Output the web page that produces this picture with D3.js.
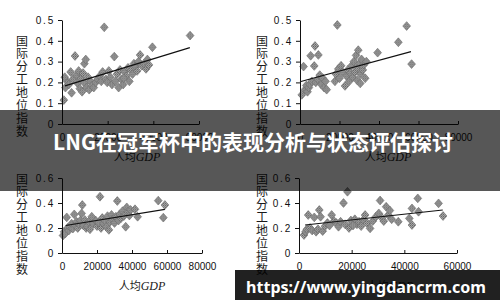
<!DOCTYPE html>
<html>
<head>
<meta charset="utf-8">
<script src="https://cdnjs.cloudflare.com/ajax/libs/d3/7.8.5/d3.min.js"></script>
<style>
	body { margin: 0; background: #fff; }
	svg { display: block; }
</style>
</head>
<body>
<div id="chart"></div>
<script>
// scatter values (GDP per head, division index)
var gdpA = [800, 1500, 2200, 1200, 3000, 3800, 4200, 4800, 5700, 6400, 6900, 7300, 7800, 8300, 8800, 9200,
	9800, 10400, 10000, 10800, 11400, 11900, 12500, 13200, 13900, 14800, 15600, 16500, 17200, 17800, 18500,
	19200, 19800, 20500, 21200, 21900, 22900, 23400, 24100, 24800, 25400, 26000, 26800, 27400, 28100, 28900,
	29500, 30200, 30900, 31500, 32200, 32900, 33500, 34200, 35000, 35900, 36800, 38100, 39600, 37400, 56100, 27000];
var idxA = [0.115, 0.175, 0.205, 0.225, 0.19, 0.25, 0.15, 0.215, 0.327, 0.235, 0.195, 0.255, 0.17, 0.22, 0.155, 0.245,
	0.29, 0.31, 0.195, 0.175, 0.225, 0.165, 0.205, 0.185, 0.175, 0.2, 0.215, 0.23, 0.205, 0.25, 0.465,
	0.215, 0.2, 0.255, 0.225, 0.19, 0.324, 0.205, 0.24, 0.175, 0.26, 0.215, 0.19, 0.25, 0.23, 0.27,
	0.205, 0.26, 0.24, 0.29, 0.275, 0.255, 0.3, 0.332, 0.28, 0.29, 0.265, 0.284, 0.369, 0.31, 0.425, 0.22];

var gdpB = [900, 1800, 2500, 3200, 3800, 4500, 5000, 5400, 6000, 7200, 7600, 8000, 9300, 9000, 10000, 10800,
	11500, 12200, 12900, 13500, 17700, 18200, 18900, 19400, 20000, 20800, 21500, 22800, 23600, 24200, 24900,
	25500, 26100, 26700, 27300, 27900, 28400, 28900, 29500, 30000, 30600, 31200, 31800, 32400, 33000, 33600,
	29000, 30500, 39300, 49800, 54000, 56500];
var idxB = [0.14, 0.276, 0.165, 0.185, 0.155, 0.175, 0.19, 0.328, 0.205, 0.279, 0.375, 0.2, 0.332, 0.215, 0.235, 0.19,
	0.22, 0.175, 0.205, 0.165, 0.205, 0.24, 0.476, 0.265, 0.22, 0.28, 0.25, 0.183, 0.23, 0.26, 0.205,
	0.245, 0.28, 0.225, 0.3, 0.25, 0.33, 0.27, 0.355, 0.29, 0.24, 0.31, 0.26, 0.285, 0.22, 0.3,
	0.21, 0.195, 0.343, 0.393, 0.471, 0.288];

var gdpC = [600, 1200, 1800, 2700, 3200, 3900, 4600, 5500, 6200, 7000, 7600, 8300, 9000, 9700, 10500, 11200,
	11600, 12300, 13000, 13800, 14500, 15300, 16000, 18000, 19200, 20000, 21000, 21700, 22300, 23000, 23800,
	24500, 25300, 26000, 26800, 27500, 28300, 29000, 30000, 30800, 31600, 32300, 33000, 33800, 34600, 35300,
	36400, 37000, 37700, 38500, 39200, 41700, 43200, 55000, 57900, 58800, 17000];
var idxC = [0.14, 0.17, 0.155, 0.285, 0.2, 0.18, 0.21, 0.235, 0.195, 0.309, 0.22, 0.25, 0.2, 0.235, 0.26, 0.317,
	0.384, 0.22, 0.265, 0.2, 0.215, 0.25, 0.19, 0.235, 0.26, 0.215, 0.245, 0.45, 0.2, 0.28, 0.235,
	0.26, 0.21, 0.295, 0.185, 0.25, 0.305, 0.27, 0.24, 0.29, 0.416, 0.26, 0.31, 0.28, 0.335, 0.295,
	0.21, 0.365, 0.33, 0.3, 0.345, 0.35, 0.29, 0.419, 0.283, 0.384, 0.29];

var gdpD = [1900, 2500, 3000, 3500, 4200, 5000, 5800, 6500, 7200, 7700, 8200, 9000, 9900, 10800, 11600, 12400,
	13300, 14200, 15000, 15800, 16900, 17500, 18400, 19000, 19700, 21200, 22000, 22800, 23600, 24400, 25100,
	25800, 27000, 28000, 29200, 30300, 30800, 31500, 32200, 33100, 33900, 34500, 35200, 37700, 41900, 42900,
	42900, 45100, 45400, 53000, 54700, 20500];
var idxD = [0.144, 0.17, 0.19, 0.304, 0.2, 0.18, 0.285, 0.17, 0.19, 0.344, 0.29, 0.175, 0.215, 0.24, 0.22, 0.304,
	0.255, 0.24, 0.21, 0.25, 0.4, 0.23, 0.49, 0.2, 0.26, 0.27, 0.23, 0.25, 0.215, 0.265, 0.304,
	0.24, 0.197, 0.255, 0.29, 0.317, 0.42, 0.28, 0.255, 0.37, 0.304, 0.34, 0.27, 0.25, 0.277, 0.357,
	0.224, 0.437, 0.33, 0.397, 0.296, 0.22];

// fitted lines: two ends each
var trendGdpA = [1300, 56000], trendIdxA = [0.183, 0.367];
var trendGdpB = [0, 56200], trendIdxB = [0.203, 0.348];
var trendGdpC = [2100, 58800], trendIdxC = [0.22, 0.349];
var trendGdpD = [2300, 54600], trendIdxD = [0.224, 0.344];

// tick labels
var xTicks60 = [0, 20000, 40000, 60000];
var xTicks80 = [0, 20000, 40000, 60000, 80000];
var yTicksTop = [0, 0.1, 0.2, 0.3, 0.4, 0.5];
var yTicksBottom = [0, 0.2, 0.4, 0.6];

var yTitle = "国际分工地位指数";
var xTitleCn = "人均", xTitleEn = "GDP";
var bannerText = "LNG在冠军杯中的表现分析与状态评估探讨";
var watermarkText = "https://www.yingdancrm.com";

var svg;

function init() {
	svg = d3.select("#chart")
		.append("svg")
		.attr("width", 500)
		.attr("height", 300);

	// halftone-ish fill for the diamonds
	var pat = svg.append("defs")
		.append("pattern")
		.attr("id", "dots")
		.attr("width", 2)
		.attr("height", 2)
		.attr("patternUnits", "userSpaceOnUse");
	pat.append("rect").attr("width", 2).attr("height", 2).attr("fill", "#a6a6a6");
	pat.append("rect").attr("width", 1).attr("height", 1).attr("fill", "#646464");
	pat.append("rect").attr("x", 1).attr("y", 1).attr("width", 1).attr("height", 1).attr("fill", "#7c7c7c");

	drawPanel({ gdp: gdpA, idx: idxA, tGdp: trendGdpA, tIdx: trendIdxA, xTicks: xTicks60, yTicks: yTicksTop,
		xr: [62, 199], yr: [124, 20], titleX: 22, titleY: 40, xtX: 137, xtY: 161 });
	drawPanel({ gdp: gdpB, idx: idxB, tGdp: trendGdpB, tIdx: trendIdxB, xTicks: xTicks80, yTicks: yTicksTop,
		xr: [300, 458], yr: [124, 20], titleX: 262, titleY: 40, xtX: 388, xtY: 161 });
	drawPanel({ gdp: gdpC, idx: idxC, tGdp: trendGdpC, tIdx: trendIdxC, xTicks: xTicks80, yTicks: yTicksBottom,
		xr: [62, 202], yr: [253, 178], titleX: 22, titleY: 178, xtX: 142, xtY: 290 });
	drawPanel({ gdp: gdpD, idx: idxD, tGdp: trendGdpD, tIdx: trendIdxD, xTicks: xTicks60, yTicks: yTicksBottom,
		xr: [299, 457], yr: [253, 178], titleX: 262, titleY: 178, xtX: 390, xtY: 290 });

	drawOverlays();
}

function drawPanel(p) {
	var g = svg.append("g");
	var xMax = p.xTicks[p.xTicks.length - 1];
	var yMax = p.yTicks[p.yTicks.length - 1];

	var x = d3.scaleLinear().domain([0, xMax]).range(p.xr);
	var y = d3.scaleLinear().domain([0, yMax]).range(p.yr);

	// points
	g.selectAll(".pt")
		.data(p.gdp)
		.enter().append("path")
		.attr("class", "pt")
		.attr("d", "M0,-4.4L3.9,0L0,4.4L-3.9,0Z")
		.attr("transform", function(d, i) { return "translate(" + x(d) + "," + y(p.idx[i]) + ")"; })
		.attr("fill", "url(#dots)")
		.attr("stroke", "#6c6c6c")
		.attr("stroke-width", 0.6);

	// fitted line
	var line = d3.line()
		.x(function(d) { return x(d); })
		.y(function(d, i) { return y(p.tIdx[i]); });
	g.append("path")
		.datum(p.tGdp)
		.attr("d", line)
		.attr("fill", "none")
		.attr("stroke", "#111")
		.attr("stroke-width", 1.2);

	var xAxis = d3.axisBottom(x)
		.tickValues(p.xTicks)
		.tickSizeInner(-3)
		.tickSizeOuter(0)
		.tickPadding(10)
		.tickFormat(function(d) { return String(d); });

	var yAxis = d3.axisLeft(y)
		.tickValues(p.yTicks)
		.tickSizeInner(4)
		.tickSizeOuter(0)
		.tickPadding(3)
		.tickFormat(function(d) { return d === 0 ? "0" : d.toFixed(1); });

	g.append("g")
		.attr("transform", "translate(0," + p.yr[0] + ")")
		.attr("font-family", "'Liberation Serif', serif")
		.attr("font-size", 10.5)
		.call(xAxis);

	g.append("g")
		.attr("transform", "translate(" + p.xr[0] + ",0)")
		.attr("font-family", "'Liberation Serif', serif")
		.attr("font-size", 11)
		.call(yAxis)
		.selectAll("text")
		.attr("letter-spacing", 1.8);

	g.selectAll(".domain, .tick line").attr("stroke", "#111");
	g.selectAll(".tick text").attr("fill", "#111");

	// vertical axis title, one char per row
	g.selectAll(".ytitle")
		.data(yTitle.split(""))
		.enter().append("text")
		.attr("class", "ytitle")
		.attr("x", p.titleX)
		.attr("y", function(d, i) { return p.titleY + i * 12.9; })
		.attr("text-anchor", "middle")
		.attr("dominant-baseline", "central")
		.attr("font-family", "'Noto Sans CJK SC', sans-serif")
		.attr("font-size", 12)
		.attr("fill", "#1a1a1a")
		.text(function(d) { return d; });

	var xt = g.append("text")
		.attr("x", p.xtX)
		.attr("y", p.xtY)
		.attr("text-anchor", "middle")
		.attr("font-size", 11)
		.attr("fill", "#1a1a1a");
	xt.append("tspan")
		.attr("font-family", "'Noto Sans CJK SC', sans-serif")
		.text(xTitleCn);
	xt.append("tspan")
		.attr("font-family", "'Liberation Serif', serif")
		.attr("font-style", "italic")
		.attr("font-size", 12)
		.text(xTitleEn);
}

function drawOverlays() {
	// dark band with title
	svg.append("rect")
		.attr("x", 0)
		.attr("y", 110)
		.attr("width", 500)
		.attr("height", 81)
		.attr("fill", "#000")
		.attr("fill-opacity", 0.66);

	svg.append("text")
		.attr("x", 253)
		.attr("y", 141)
		.attr("text-anchor", "middle")
		.attr("dominant-baseline", "central")
		.attr("font-family", "'Noto Sans CJK SC', sans-serif")
		.attr("font-weight", "bold")
		.attr("font-size", 21)
		.attr("fill", "#fff")
		.text(bannerText);

	// watermark box
	svg.append("rect")
		.attr("x", 235)
		.attr("y", 270)
		.attr("width", 265)
		.attr("height", 30)
		.attr("fill", "#000")
		.attr("fill-opacity", 0.87);

	svg.append("text")
		.attr("x", 246)
		.attr("y", 293)
		.attr("font-family", "'Noto Sans', sans-serif")
		.attr("font-weight", "bold")
		.attr("font-size", 16)
		.attr("textLength", 240)
		.attr("lengthAdjust", "spacingAndGlyphs")
		.attr("fill", "#fff")
		.text(watermarkText);
}

window.onload = init;
</script>
</body>
</html>
